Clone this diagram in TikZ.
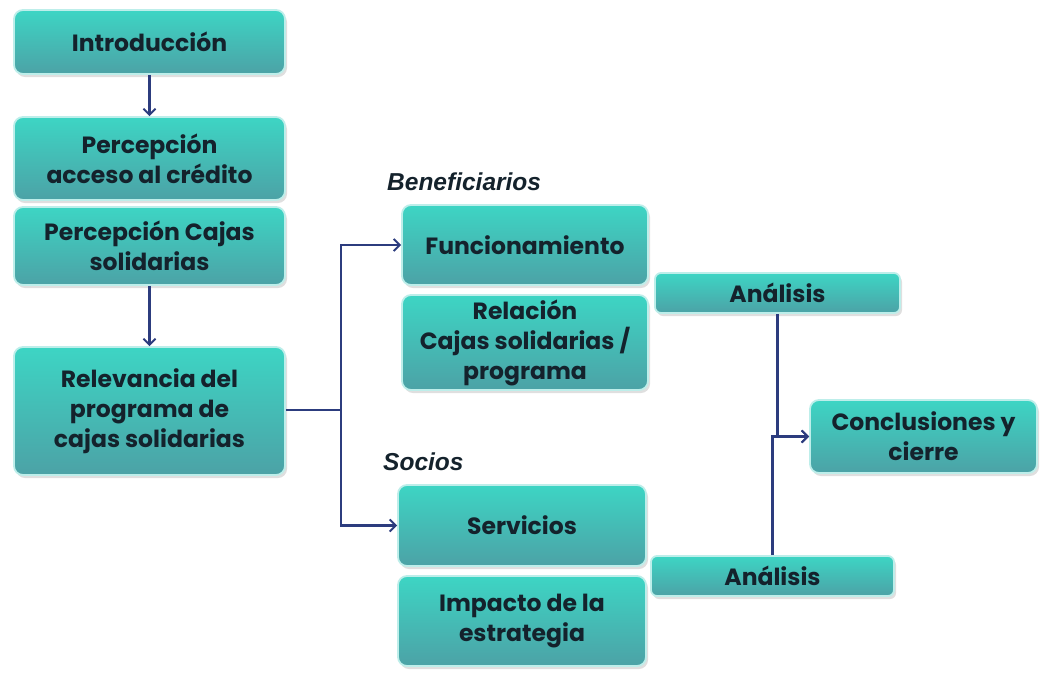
\documentclass[tikz,border=0pt]{standalone}
\usepackage{fontspec}
\setmainfont{Poppins}
\setsansfont{Liberation Sans}
\usetikzlibrary{arrows.meta,shadows}
\definecolor{boxtop}{HTML}{3DD5C4}
\definecolor{boxbot}{HTML}{4CA2A6}
\definecolor{halo}{HTML}{BDEEEA}
\definecolor{txt}{HTML}{14222C}
\definecolor{arrc}{HTML}{2C3C7E}
\begin{document}
\begin{tikzpicture}[x=1pt,y=-1pt,
  box/.style={rounded corners=9pt, draw=halo, line width=1.8pt,
    top color=boxtop, bottom color=boxbot, align=center, text=txt,
    font=\bfseries\fontsize{23.5}{30}\selectfont, inner sep=0pt,
    drop shadow={opacity=0.25, shadow xshift=2pt, shadow yshift=-3pt}},
  grp/.style={font=\sffamily\bfseries\itshape\fontsize{24.5}{28}\selectfont, text=txt, anchor=west, inner sep=0pt},
  arr/.style={draw=arrc, line width=2.2pt, -{Straight Barb[length=6pt,width=12pt,line width=2pt]}},
  lin/.style={draw=arrc, line width=2.2pt}]
\useasboundingbox (0,0) rectangle (1047,673);
\node[box, minimum width=271pt, minimum height=64pt] (intro) at (149.5,42) {Introducción};
\node[box, minimum width=271pt, minimum height=83pt] (perc1) at (149.5,158.5) {Percepción\\acceso al crédito};
\node[box, minimum width=271pt, minimum height=78pt] (perc2) at (149.5,246) {Percepción Cajas\\solidarias};
\node[box, minimum width=271pt, minimum height=128pt] (relev) at (149.5,411) {Relevancia del\\programa de\\cajas solidarias};
\node[box, minimum width=246pt, minimum height=80pt] (func) at (525,245) {Funcionamiento};
\node[box, minimum width=246pt, minimum height=95pt] (rel) at (525,342.5) {Relación\\Cajas solidarias /\\programa};
\node[box, minimum width=245pt, minimum height=40pt, rounded corners=6pt] (anal1) at (777.5,293) {Análisis};
\node[box, minimum width=227pt, minimum height=73pt] (concl) at (923.5,436.5) {Conclusiones y\\cierre};
\node[box, minimum width=248pt, minimum height=81pt] (serv) at (522,525.5) {Servicios};
\node[box, minimum width=248pt, minimum height=90pt] (imp) at (522,621) {Impacto de la\\estrategia};
\node[box, minimum width=243pt, minimum height=40pt, rounded corners=6pt] (anal2) at (772.5,576) {Análisis};
\node[grp] (benef) at (387,182) {Beneficiarios};
\node[grp] (socios) at (383,462) {Socios};
\draw[arr] (intro.south) -- (perc1.north);
\draw[arr] (perc2.south) -- (relev.north);
\coordinate (split) at (341,410);
\draw[lin] (relev.east |- split) -- (split);
\draw[arr] (split) |- (func.west);
\draw[arr] (split) |- (serv.west);
\draw[arr] (anal1.south) |- (concl.west);
\draw[arr] (anal2.north) |- (concl.west);
\end{tikzpicture}
\end{document}
